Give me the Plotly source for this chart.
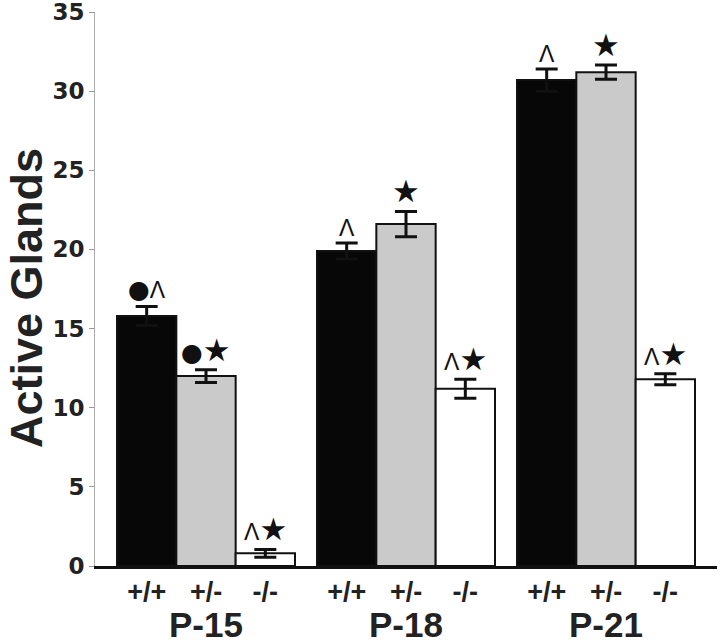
import plotly.graph_objects as go

groups = ["P-15", "P-18", "P-21"]
genotypes = ["+/+", "+/-", "-/-"]
values = {
    "+/+": [15.8, 19.9, 30.7],
    "+/-": [12.0, 21.6, 31.2],
    "-/-": [0.8, 11.2, 11.8],
}
errors = {
    "+/+": [0.6, 0.5, 0.7],
    "+/-": [0.4, 0.8, 0.45],
    "-/-": [0.25, 0.6, 0.35],
}
marks = {
    "+/+": ["●Λ", "Λ", "Λ"],
    "+/-": ["●★", "★", "★"],
    "-/-": ["Λ★", "Λ★", "Λ★"],
}
colors = {"+/+": "#070707", "+/-": "#cacaca", "-/-": "#ffffff"}
y_ticks = [0, 5, 10, 15, 20, 25, 30, 35]

bargap = 0.11
bw = (1 - bargap) / 3
offsets = {"+/+": -bw, "+/-": 0.0, "-/-": bw}
gx = list(range(len(groups)))

fig = go.Figure()
for g in genotypes:
    fig.add_trace(go.Bar(
        x=gx, y=values[g], name=g,
        marker=dict(color=colors[g], line=dict(color="#111", width=2)),
        error_y=dict(type="data", array=errors[g], color="#111",
                     thickness=3, width=11),
        showlegend=False,
    ))

tickvals, ticktext = [], []
for i in gx:
    for g in genotypes:
        tickvals.append(i + offsets[g])
        ticktext.append(g)

annotations = []
for g in genotypes:
    for i in gx:
        txt = marks[g][i]
        html = (txt.replace("●", "<span style='font-size:25px'>●</span>")
                   .replace("★", "<span style='font-size:31px'>★</span>")
                   .replace("Λ", "<span style='font-size:23px;font-family:Liberation Sans'>Λ</span>"))
        annotations.append(dict(
            x=i + offsets[g], y=values[g][i] + errors[g][i],
            xref="x", yref="y", text=html, showarrow=False,
            yanchor="bottom", xanchor="center", yshift=0,
            font=dict(family="DejaVu Sans", size=22, color="#111"),
        ))

for i, name in zip(gx, groups):
    annotations.append(dict(
        x=i, y=-0.105, xref="x", yref="paper", text=name, showarrow=False,
        yanchor="middle", xanchor="center",
        font=dict(family="Liberation Sans", size=35, color="#222", weight="bold"),
    ))

annotations.append(dict(
    x=-0.11, y=0.483, xref="paper", yref="paper", text="Active Glands",
    textangle=-90, showarrow=False, xanchor="center", yanchor="middle",
    font=dict(family="Liberation Sans", size=45, color="#222", weight="bold"),
))

fig.update_layout(
    width=720, height=643,
    margin=dict(l=95, r=3, t=12, b=77),
    paper_bgcolor="white", plot_bgcolor="white",
    barmode="group", bargap=bargap, bargroupgap=0,
    annotations=annotations,
    xaxis=dict(
        range=[-0.555, 2.555], tickvals=tickvals, ticktext=ticktext,
        showline=True, linecolor="#111", linewidth=3, ticks="",
        showgrid=False, zeroline=False, automargin=False,
        tickfont=dict(family="Liberation Sans", size=27, color="#222", weight="bold"),
    ),
    yaxis=dict(
        range=[0, 35], tickvals=y_ticks, ticks="outside", ticklen=5,
        tickcolor="#999", showline=True, linecolor="#aaa", linewidth=1,
        showgrid=False, zeroline=False, automargin=False,
        ticklabeloverflow="allow",
        tickfont=dict(family="DejaVu Sans", size=23, color="#222", weight="bold"),
    ),
)

fig.write_html(
    "out.html",
    config={"displayModeBar": False},
    post_script="document.body.style.margin='0';document.body.style.overflow='hidden';",
)
